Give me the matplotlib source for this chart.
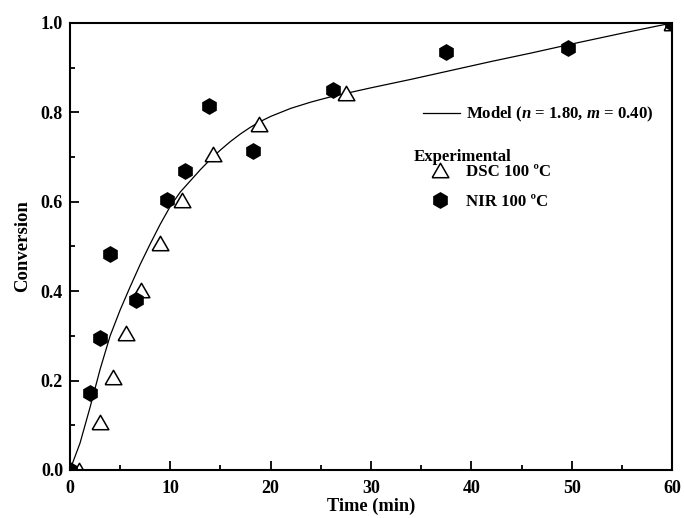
import matplotlib
matplotlib.use('Agg')
import matplotlib.pyplot as plt
from matplotlib.lines import Line2D

plt.rcParams['font.family'] = 'Liberation Serif'
plt.rcParams['font.weight'] = 'bold'
plt.rcParams['mathtext.fontset'] = 'custom'
plt.rcParams['mathtext.it'] = 'Liberation Serif:italic:bold'
plt.rcParams['mathtext.rm'] = 'Liberation Serif:bold'

# model curve
model_t = [0, 1, 2, 3, 4, 5, 6, 7, 8, 9, 10, 11, 12, 13, 14, 15, 16, 17, 18,
           19, 20, 22, 24, 26, 28, 30, 34, 38, 42, 46, 50, 55, 60]
model_y = [0, 0.060, 0.140, 0.225, 0.300, 0.358, 0.410, 0.460, 0.506, 0.550,
           0.590, 0.622, 0.647, 0.672, 0.695, 0.716, 0.735, 0.752, 0.767,
           0.780, 0.791, 0.809, 0.823, 0.835, 0.845, 0.855, 0.874, 0.894,
           0.914, 0.933, 0.953, 0.977, 1.0]

# experimental points
dsc_t = [0.9, 3.0, 4.3, 5.6, 7.1, 9.0, 11.2, 14.3, 18.8, 27.5, 60]
dsc_y = [0, 0.108, 0.209, 0.306, 0.403, 0.507, 0.604, 0.706, 0.773, 0.843, 1.0]

nir_t = [0, 2.0, 3.0, 4.0, 6.6, 9.7, 11.5, 13.9, 18.2, 26.2, 37.5, 49.6, 60]
nir_y = [0, 0.173, 0.295, 0.483, 0.380, 0.604, 0.670, 0.814, 0.714, 0.850,
         0.935, 0.945, 1.0]

# equilateral open triangle
tri = [(-1, -0.866), (1, -0.866), (0, 0.866), (-1, -0.866)]

fig = plt.figure(figsize=(6.84, 5.18), dpi=100)
ax = fig.add_axes([0.1023, 0.0927, 0.8802, 0.8629])

ax.plot(model_t, model_y, color='black', lw=0.9)
ax.plot(dsc_t, dsc_y, ls='none', marker=tri, ms=12, mfc='white',
        mec='black', mew=1.1)
ax.plot(nir_t, nir_y, ls='none', marker='h', ms=11, mfc='black',
        mec='black')

ax.set_xlim(0, 60)
ax.set_ylim(0, 1.0)
ax.set_xticks([0, 10, 20, 30, 40, 50, 60])
ax.set_xticks([5, 15, 25, 35, 45, 55], minor=True)
ax.set_yticks([0, 0.2, 0.4, 0.6, 0.8, 1.0])
ax.set_yticks([0.1, 0.3, 0.5, 0.7, 0.9], minor=True)
ax.set_yticklabels(['0.0', '0.2', '0.4', '0.6', '0.8', '1.0'])

for s in ax.spines.values():
    s.set_linewidth(1.5)
ax.tick_params(which='both', direction='in', width=1.3, labelsize=13)
ax.tick_params(which='major', length=6.5)
ax.tick_params(which='minor', length=3.5)
ax.tick_params(axis='x', pad=7)
ax.tick_params(axis='y', pad=5)

ax.set_xlabel('Time (min)', fontsize=13.2, fontweight='bold', labelpad=1)
ax.set_ylabel('Conversion', fontsize=13.5, fontweight='bold', labelpad=7)

# legends
model_h = Line2D([], [], color='black', lw=0.9)
leg1 = ax.legend([model_h], [r'Model ($n$ = 1.80, $m$ = 0.40)'],
                 loc='center left', bbox_to_anchor=(0.586, 0.795),
                 frameon=False, fontsize=12.1, borderpad=0, borderaxespad=0,
                 handlelength=2.2, handletextpad=0.4)
ax.add_artist(leg1)

ax.text(0.571, 0.700, 'Experimental', transform=ax.transAxes,
        ha='left', va='center', fontsize=12.1, fontweight='bold')

dsc_h = Line2D([], [], ls='none', marker=tri, ms=12, mfc='white',
               mec='black', mew=1.1)
nir_h = Line2D([], [], ls='none', marker='h', ms=11, mfc='black',
               mec='black')
leg2 = ax.legend([dsc_h, nir_h], ['DSC 100 ºC', 'NIR 100 ºC'],
                 loc='center left', bbox_to_anchor=(0.571, 0.633),
                 frameon=False, fontsize=12.1,
                 borderpad=0, borderaxespad=0, handlelength=3.1,
                 handletextpad=0.0, labelspacing=0.8)

fig.savefig('out.png', dpi=100)
